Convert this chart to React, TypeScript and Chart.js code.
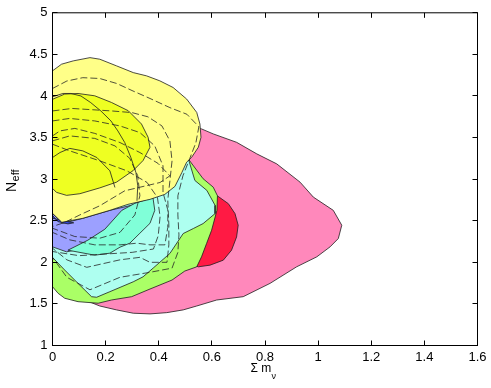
import React, { useEffect, useRef } from 'react';
import Chart from 'chart.js/auto';

// Axis ticks
const xTicks = [0, 0.2, 0.4, 0.6, 0.8, 1, 1.2, 1.4, 1.6];
const xTickLabels = ['0', '0.2', '0.4', '0.6', '0.8', '1', '1.2', '1.4', '1.6'];
const yTicks = [1, 1.5, 2, 2.5, 3, 3.5, 4, 4.5, 5];
const yTickLabels = ['1', '1.5', '2', '2.5', '3', '3.5', '4', '4.5', '5'];

// Filled contour regions [sum m_nu, N_eff]
const pinkOuter = [[0.561,3.604],[0.605,3.544],[0.693,3.443],[0.769,3.304],[0.844,3.184],[0.932,2.964],[0.982,2.784],[1.057,2.625],[1.089,2.446],[1.076,2.286],[1.045,2.186],[0.995,2.066],[0.919,1.946],[0.819,1.747],[0.718,1.587],[0.618,1.547],[0.543,1.475],[0.492,1.428],[0.430,1.395],[0.367,1.380],[0.304,1.388],[0.241,1.428],[0.178,1.475],[0.084,1.595],[0.028,2.146],[0.178,2.745],[0.367,3.463],[0.517,3.643]];
const redInner = [[0.618,2.805],[0.662,2.705],[0.687,2.586],[0.699,2.446],[0.693,2.305],[0.674,2.146],[0.643,2.026],[0.593,1.966],[0.549,1.946],[0.498,2.002],[0.517,2.266],[0.555,2.685]];
const greenOuter = [[0.510,3.248],[0.567,3.005],[0.605,2.904],[0.621,2.800],[0.619,2.625],[0.599,2.386],[0.580,2.226],[0.561,2.066],[0.543,1.946],[0.498,1.895],[0.450,1.787],[0.367,1.679],[0.298,1.587],[0.222,1.547],[0.172,1.508],[0.096,1.527],[0.046,1.568],[0.021,1.628],[0,1.707],[0,2.050],[0.178,2.505],[0.367,2.984]];
const cyanOuter = [[0.511,3.248],[0.536,2.984],[0.581,2.865],[0.612,2.685],[0.612,2.586],[0.567,2.466],[0.530,2.406],[0.492,2.346],[0.442,2.107],[0.379,1.931],[0.341,1.826],[0.304,1.766],[0.216,1.647],[0.166,1.580],[0.147,1.587],[0.096,1.747],[0.046,1.907],[0,2.059],[0,2.745],[0.254,3.224]];
const blueOuter = [[0,2.586],[0.039,2.469],[0.114,2.529],[0.216,2.625],[0.280,2.673],[0.329,2.709],[0.329,2.565],[0.254,2.326],[0.178,2.206],[0.053,2.126],[0,2.186]];
const blueDark = [[0,2.565],[0.020,2.490],[0.058,2.462],[0.080,2.475],[0.035,2.505],[0,2.530]];
const aquaInner = [[0.058,2.146],[0.159,2.086],[0.216,2.110],[0.254,2.182],[0.291,2.230],[0.329,2.350],[0.367,2.469],[0.385,2.625],[0.378,2.781],[0.310,2.709],[0.261,2.625],[0.197,2.398],[0.133,2.266]];
const yellowOuter = [[0,4.302],[0.034,4.382],[0.078,4.422],[0.141,4.461],[0.178,4.442],[0.241,4.362],[0.304,4.281],[0.354,4.242],[0.404,4.182],[0.454,4.102],[0.505,3.963],[0.543,3.802],[0.555,3.663],[0.559,3.503],[0.549,3.383],[0.524,3.263],[0.505,3.204],[0.487,3.080],[0.461,2.913],[0.423,2.817],[0.367,2.757],[0.284,2.697],[0.216,2.625],[0.114,2.529],[0.035,2.481],[0,2.589]];
const yellowInner = [[0,3.960],[0.046,4.023],[0.096,4.030],[0.159,4.002],[0.222,3.922],[0.285,3.823],[0.335,3.663],[0.360,3.503],[0.367,3.383],[0.341,3.224],[0.304,3.104],[0.241,2.964],[0.178,2.895],[0.103,2.825],[0.053,2.805],[0.015,2.841],[0,2.889]];

// Solid contour lines (unfilled)
const solidA = [[0,3.99],[0.039,4.03],[0.069,4.03],[0.107,4.00],[0.144,3.92],[0.182,3.82],[0.220,3.70],[0.246,3.58],[0.272,3.44],[0.295,3.26],[0.314,3.08],[0.321,2.92],[0.318,2.74]];
const solidB = [[0,3.26],[0.028,3.32],[0.065,3.37],[0.114,3.34],[0.167,3.26],[0.216,3.10],[0.235,2.90]];

// Dashed contour lines
const dashA = [[0,4.09],[0.054,4.18],[0.114,4.22],[0.178,4.21],[0.242,4.15],[0.303,4.06],[0.367,3.97],[0.442,3.86],[0.506,3.78],[0.551,3.63],[0.540,3.44],[0.517,3.25],[0.491,3.04],[0.472,2.80],[0.472,2.57],[0.476,2.33],[0.472,2.12],[0.450,1.93],[0.367,1.88],[0.254,1.82],[0.141,1.67],[0.054,1.82],[0,2.06]];
const dashB = [[0,3.82],[0.073,3.85],[0.223,3.82],[0.299,3.80],[0.359,3.75],[0.412,3.64],[0.442,3.46],[0.450,3.22],[0.442,2.98],[0.434,2.75],[0.438,2.45],[0.438,2.21],[0.431,2.00],[0.367,2.00],[0.329,2.06],[0.254,2.03],[0.129,1.94],[0.054,2.03],[0,2.17]];
const dashC = [[0,3.70],[0.065,3.73],[0.159,3.70],[0.254,3.64],[0.329,3.56],[0.385,3.40],[0.416,3.16],[0.416,2.84],[0.434,2.63],[0.434,2.42],[0.423,2.21],[0.367,2.21],[0.318,2.23],[0.254,2.21],[0.159,2.21],[0.065,2.27],[0,2.36]];
const dashD = [[0,3.52],[0.028,3.58],[0.084,3.61],[0.159,3.55],[0.254,3.44],[0.329,3.32],[0.397,3.19],[0.442,3.04],[0.405,2.96],[0.272,2.86],[0.178,2.68],[0.103,2.57],[0.046,2.48],[0,2.43]];
const dashE = [[0,3.46],[0.065,3.52],[0.159,3.49],[0.235,3.40],[0.291,3.25],[0.321,3.04],[0.329,2.80],[0.310,2.57],[0.254,2.36],[0.178,2.29],[0.084,2.31],[0,2.41]];
const dashF = [[0,3.42],[0.065,3.34],[0.178,3.22],[0.280,3.10],[0.356,2.96],[0.395,2.78],[0.405,2.55],[0.398,2.32],[0.380,2.16],[0.300,2.12],[0.200,2.10],[0.100,2.08],[0,2.13]];

const FONT = '"Liberation Sans", Arial, Helvetica, sans-serif';

const toPts = (arr: number[][]) => arr.map(([x, y]) => ({ x, y }));

const poly = (pts: number[][], color: string) => ({
  data: toPts([...pts, pts[0]]),
  showLine: true,
  fill: 'shape',
  backgroundColor: color,
  borderColor: '#1e1e1e',
  borderWidth: 0.8,
  pointRadius: 0,
  pointHoverRadius: 0,
  tension: 0,
});

const line = (pts: number[][], dashed: boolean) => ({
  data: toPts(pts),
  showLine: true,
  fill: false,
  borderColor: dashed ? '#262626' : '#1e1e1e',
  borderWidth: 0.8,
  borderDash: dashed ? [7, 3] : [],
  pointRadius: 0,
  pointHoverRadius: 0,
  tension: 0,
});

const framePlugin = {
  id: 'frame',
  afterDraw(chart: any) {
    const { ctx, chartArea: a, scales } = chart;
    const xs = scales.x;
    const ys = scales.y;
    ctx.save();
    ctx.strokeStyle = '#000';
    ctx.lineWidth = 1;
    ctx.setLineDash([]);
    ctx.strokeRect(a.left, a.top, a.right - a.left, a.bottom - a.top);
    const tl = 5;
    ctx.beginPath();
    xTicks.forEach((v) => {
      const p = Math.round(xs.getPixelForValue(v) - 0.5) + 0.5;
      ctx.moveTo(p, a.bottom);
      ctx.lineTo(p, a.bottom - tl);
      ctx.moveTo(p, a.top);
      ctx.lineTo(p, a.top + tl);
    });
    yTicks.forEach((v) => {
      const p = Math.round(ys.getPixelForValue(v) - 0.5) + 0.5;
      ctx.moveTo(a.left, p);
      ctx.lineTo(a.left + tl, p);
      ctx.moveTo(a.right, p);
      ctx.lineTo(a.right - tl, p);
    });
    ctx.stroke();

    // x title: Σ m_ν
    ctx.fillStyle = '#000';
    ctx.textBaseline = 'alphabetic';
    ctx.textAlign = 'left';
    ctx.font = '12px ' + FONT;
    const main = 'Σ m';
    const w1 = ctx.measureText(main).width;
    ctx.font = '9px ' + FONT;
    const w2 = ctx.measureText('ν').width;
    const sx = 263 - (w1 + w2) / 2;
    ctx.font = '12px ' + FONT;
    ctx.fillText(main, sx, 372);
    ctx.font = '9px ' + FONT;
    ctx.fillText('ν', sx + w1 + 0.5, 378.5);

    // y title: N_eff
    ctx.save();
    ctx.translate(16, 192);
    ctx.rotate(-Math.PI / 2);
    ctx.font = '14px ' + FONT;
    ctx.fillText('N', 0, 0);
    const wn = ctx.measureText('N').width;
    ctx.font = '11px ' + FONT;
    ctx.fillText('eff', wn + 0.5, 3);
    ctx.restore();
    ctx.restore();
  },
};

export default function App() {
  const ref = useRef<HTMLCanvasElement | null>(null);
  useEffect(() => {
    const list: any[] = [
      poly(pinkOuter, '#ff88bb'),
      poly(redInner, '#ff1a44'),
      poly(greenOuter, '#aaff66'),
      poly(cyanOuter, '#aefff0'),
      poly(blueOuter, '#9ca0ff'),
      poly(blueDark, '#3348dd'),
      poly(aquaInner, '#80ffd8'),
      poly(yellowOuter, '#ffff88'),
      poly(yellowInner, '#eeff22'),
      line(solidA, false),
      line(solidB, false),
      line(dashA, true),
      line(dashB, true),
      line(dashC, true),
      line(dashD, true),
      line(dashE, true),
      line(dashF, true),
    ];
    list.forEach((d, i) => (d.order = list.length - i));
    const chart = new Chart(ref.current as HTMLCanvasElement, {
      type: 'scatter',
      data: { datasets: list },
      options: {
        animation: false,
        responsive: false,
        devicePixelRatio: 1,
        layout: { padding: { left: 0, top: 11.5, right: 13.5, bottom: 0 } },
        plugins: { legend: { display: false }, tooltip: { enabled: false } },
        events: [],
        scales: {
          x: {
            type: 'linear',
            min: 0,
            max: 1.6,
            grid: { display: false, drawTicks: false },
            border: { display: false },
            afterBuildTicks: (axis: any) => {
              axis.ticks = xTicks.map((v) => ({ value: v }));
            },
            afterFit: (axis: any) => {
              axis.height = 42.5;
            },
            ticks: {
              autoSkip: false,
              maxRotation: 0,
              padding: 4,
              color: '#000',
              font: { family: FONT, size: 13 },
              callback: (_v: any, i: number) => xTickLabels[i],
            },
          },
          y: {
            type: 'linear',
            min: 1,
            max: 5,
            grid: { display: false, drawTicks: false },
            border: { display: false },
            afterBuildTicks: (axis: any) => {
              axis.ticks = yTicks.map((v) => ({ value: v }));
            },
            afterFit: (axis: any) => {
              axis.width = 52.5;
            },
            ticks: {
              autoSkip: false,
              padding: 5,
              color: '#000',
              font: { family: FONT, size: 13 },
              callback: (_v: any, i: number) => yTickLabels[i],
            },
          },
        },
      } as any,
      plugins: [framePlugin],
    });
    return () => chart.destroy();
  }, []);
  return (
    <div style={{ position: 'absolute', left: 0, top: 0, width: 491, height: 388, background: '#fff' }}>
      <canvas ref={ref} width={491} height={388} style={{ display: 'block' }} />
    </div>
  );
}
